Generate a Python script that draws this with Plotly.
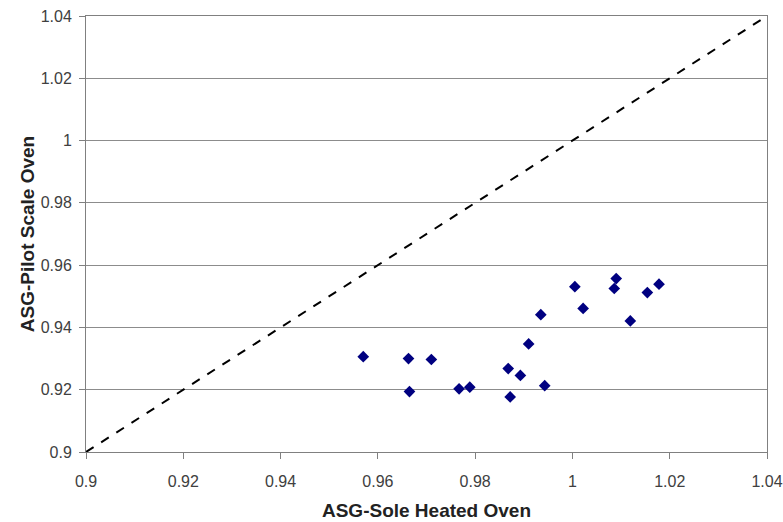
import plotly.graph_objects as go

sole_heated = [0.9570, 0.9663, 0.9710, 0.9665, 0.9767, 0.9789, 0.9868, 0.9893, 0.9872, 0.9910,
               0.9935, 0.9943, 1.0005, 1.0022, 1.0090, 1.0086, 1.0119, 1.0154, 1.0178]
pilot_scale = [0.9306, 0.9300, 0.9297, 0.9194, 0.9203, 0.9208, 0.9268, 0.9246, 0.9177, 0.9347,
               0.9441, 0.9213, 0.9531, 0.9461, 0.9557, 0.9525, 0.9421, 0.9512, 0.9539]
line_x = [0.9, 1.04]
line_y = [0.9, 1.04]
tick_vals = [0.9, 0.92, 0.94, 0.96, 0.98, 1.0, 1.02, 1.04]
tick_text = ["0.9", "0.92", "0.94", "0.96", "0.98", "1", "1.02", "1.04"]

fig = go.Figure()
fig.add_trace(go.Scatter(x=line_x, y=line_y, mode="lines",
                         line=dict(color="black", width=2, dash="dash"), hoverinfo="skip"))
fig.add_trace(go.Scatter(x=sole_heated, y=pilot_scale, mode="markers",
                         marker=dict(symbol="diamond", color="#000080", size=9)))

axis_common = dict(
    tickvals=tick_vals, ticktext=tick_text, automargin=False,
    range=[0.9, 1.04], showline=True, linecolor="#808080", linewidth=1, mirror=True,
    ticks="outside", ticklen=6, tickcolor="#808080", zeroline=False,
    tickfont=dict(family="Liberation Sans, Arial", size=16, color="#404040"),
)
fig.update_xaxes(**axis_common, showgrid=False, ticklabelstandoff=9,
                 title=dict(text="<b>ASG-Sole Heated Oven</b>",
                            font=dict(family="Liberation Sans, Arial", size=19, color="#222"),
                            standoff=14))
fig.update_yaxes(**axis_common, showgrid=True, gridcolor="#8c8c8c", gridwidth=1,
                 ticklabelstandoff=4,
                 title=dict(text="<b>ASG-Pilot Scale Oven</b>",
                            font=dict(family="Liberation Sans, Arial", size=19, color="#222"),
                            standoff=1))
fig.update_layout(
    width=783, height=522, showlegend=False,
    plot_bgcolor="white", paper_bgcolor="white",
    margin=dict(l=86, r=16, t=16, b=70),
)
fig.write_html("out.html", config={"displayModeBar": False},
               post_script="document.body.style.margin='0';document.body.style.overflow='hidden';")
